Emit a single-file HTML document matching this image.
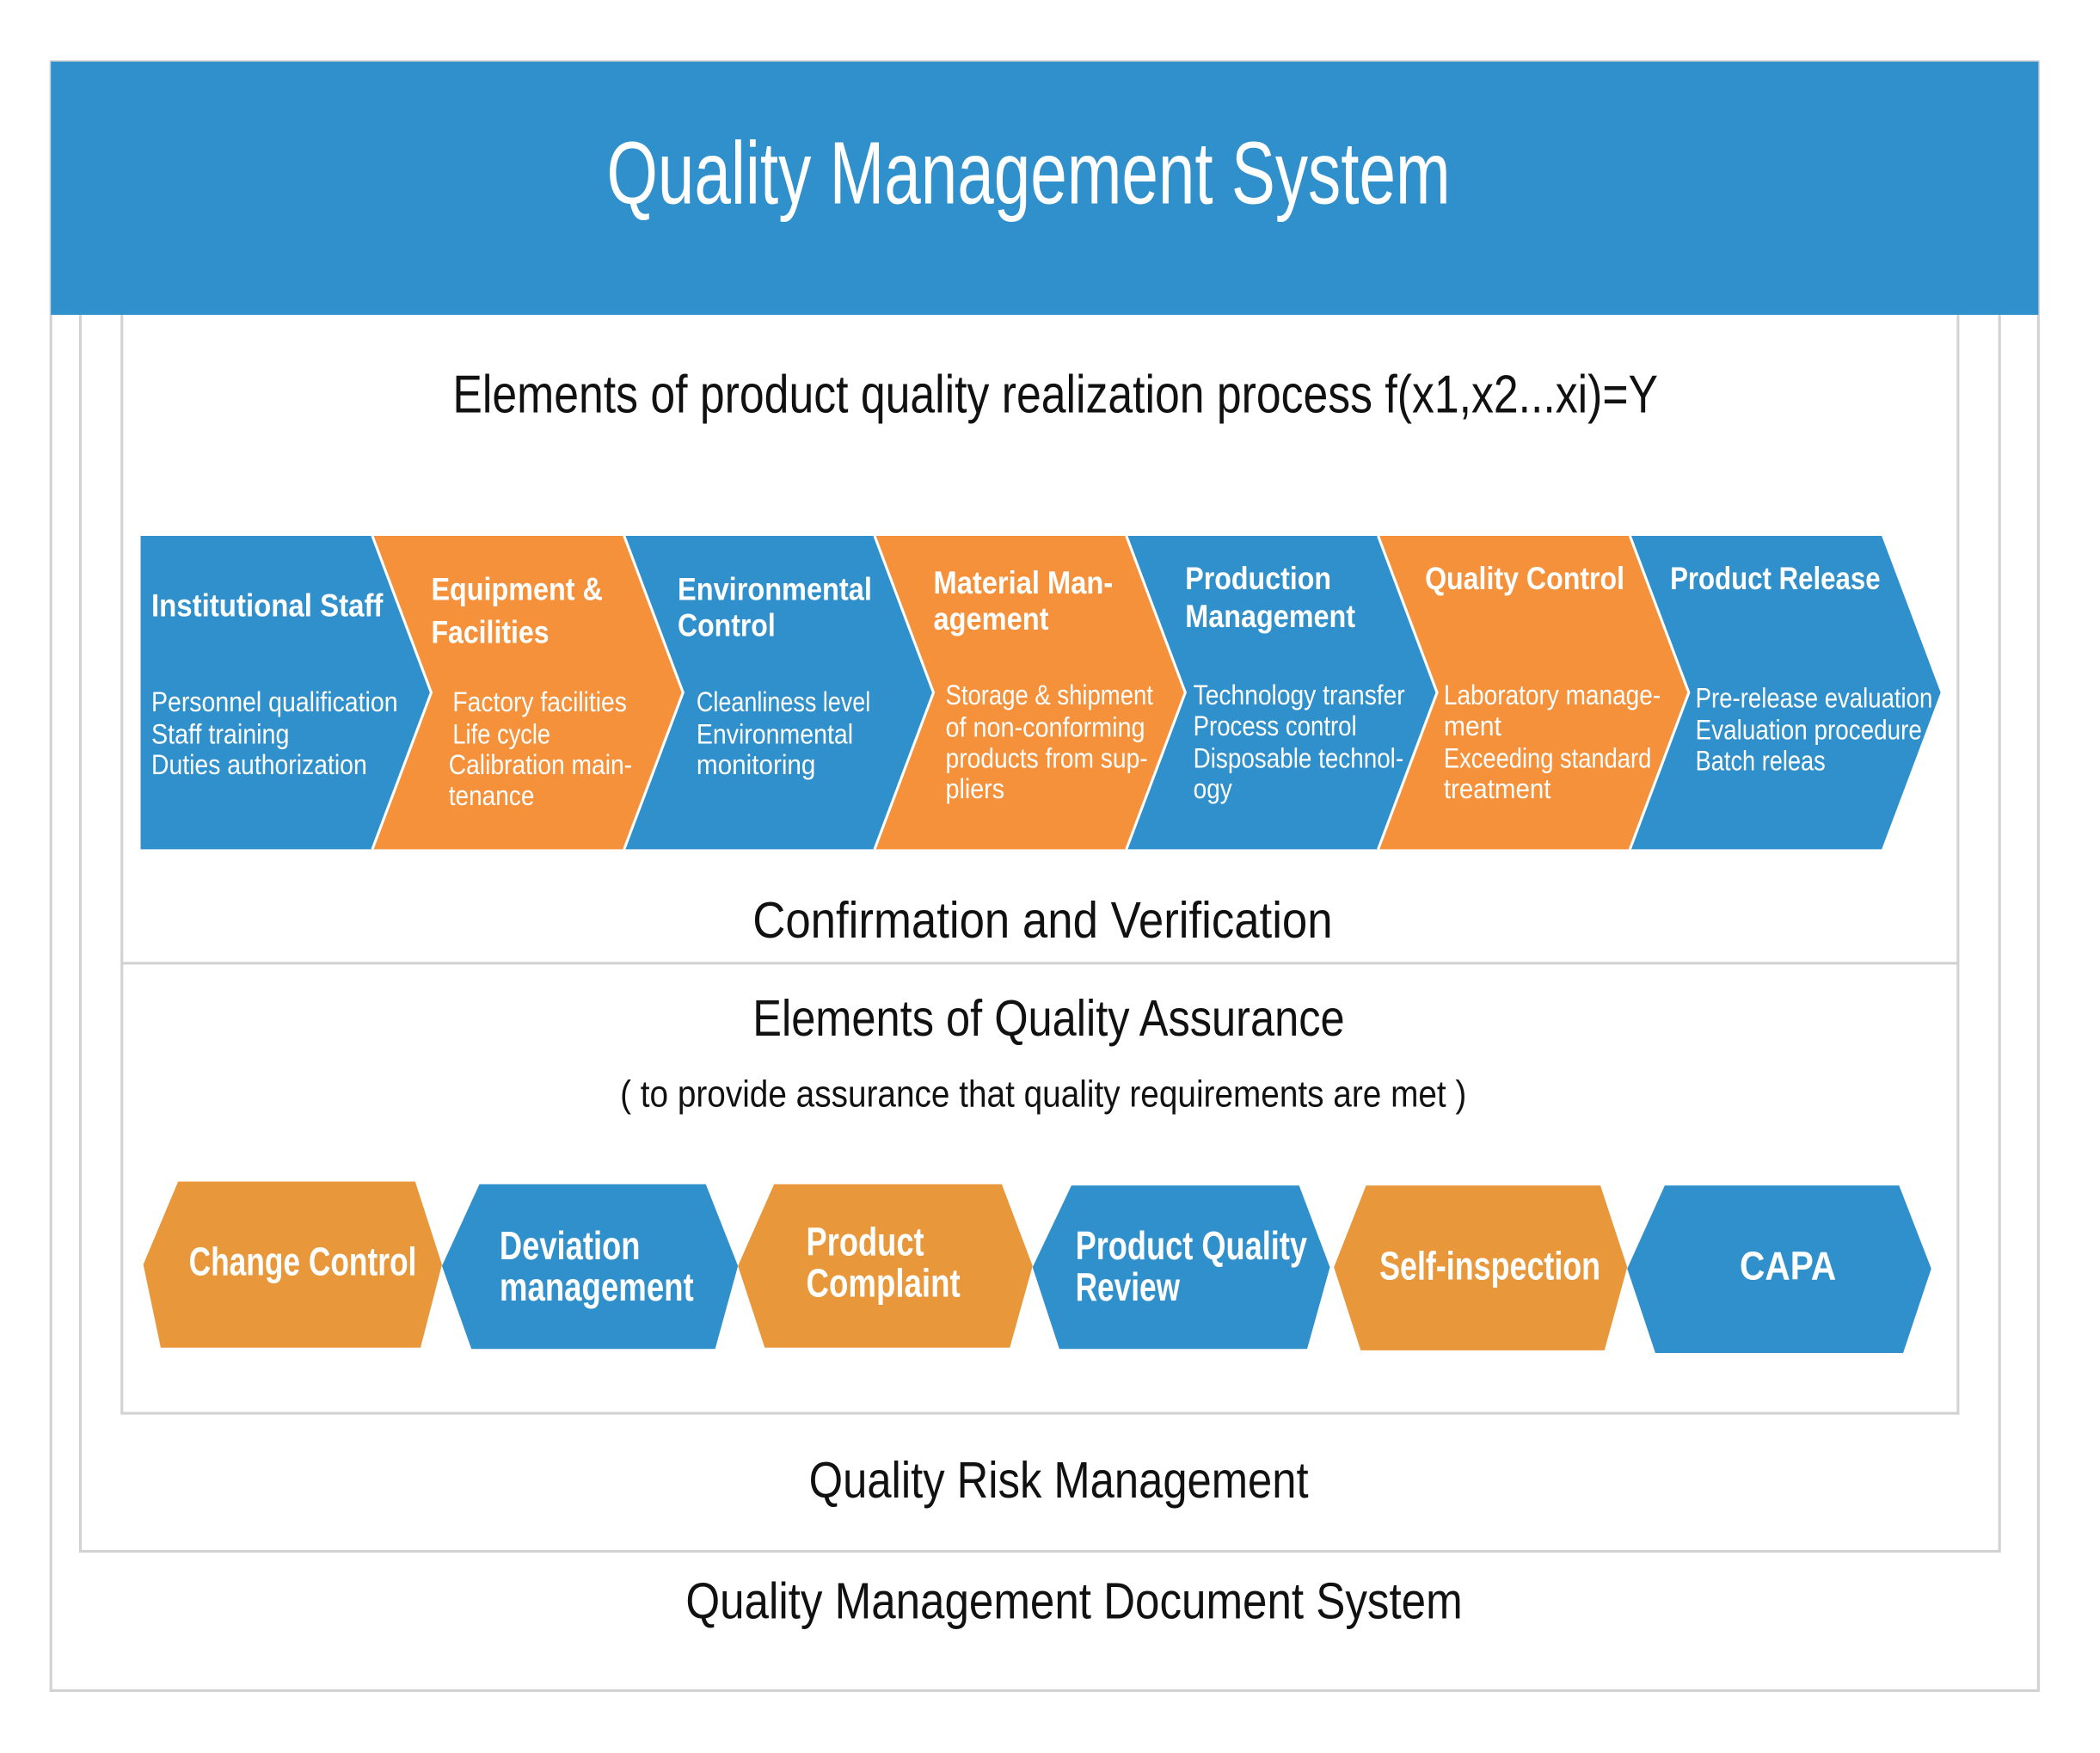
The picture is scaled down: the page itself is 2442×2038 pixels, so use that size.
<!DOCTYPE html>
<html><head><meta charset="utf-8"><style>html,body{margin:0;padding:0;background:#fff}svg{display:block}</style></head>
<body>
<svg width="2442" height="2038" viewBox="0 0 1568 1308.6" preserveAspectRatio="none" xmlns="http://www.w3.org/2000/svg" font-family="'Liberation Sans Narrow','Liberation Sans',sans-serif">
<rect x="0" y="0" width="1568" height="1308.6" fill="#fff"/>
<rect x="38" y="46" width="1484" height="1216" fill="none" stroke="#d2d2d2" stroke-width="2"/>
<rect x="60" y="200" width="1433" height="958" fill="none" stroke="#d2d2d2" stroke-width="2"/>
<rect x="91" y="200" width="1371" height="855" fill="none" stroke="#d2d2d2" stroke-width="2"/>
<line x1="91" y1="719" x2="1462" y2="719" stroke="#d2d2d2" stroke-width="2"/>
<rect x="38" y="46" width="1484" height="189" fill="#3090cb"/>
<text x="453" y="152" font-size="66" fill="#fff" textLength="630" lengthAdjust="spacingAndGlyphs">Quality Management System</text>
<text x="338" y="308" font-size="40" fill="#111" textLength="900" lengthAdjust="spacingAndGlyphs">Elements of product quality realization process  f(x1,x2...xi)=Y</text>

<g>
<polygon points="105,400 278,400 322,517 278,634 105,634" fill="#3090cb"/>
<polygon points="278,400 466,400 510,517 466,634 278,634 322,517" fill="#f4913a"/>
<polygon points="466,400 653,400 697,517 653,634 466,634 510,517" fill="#3090cb"/>
<polygon points="653,400 841,400 885,517 841,634 653,634 697,517" fill="#f4913a"/>
<polygon points="841,400 1029,400 1073,517 1029,634 841,634 885,517" fill="#3090cb"/>
<polygon points="1029,400 1217,400 1261,517 1217,634 1029,634 1073,517" fill="#f4913a"/>
<polygon points="1217,400 1405,400 1449,517 1405,634 1217,634 1261,517" fill="#3090cb"/>
<g stroke="#fff" stroke-width="2" fill="none">
<polyline points="278,400 322,517 278,634"/><polyline points="466,400 510,517 466,634"/><polyline points="653,400 697,517 653,634"/><polyline points="841,400 885,517 841,634"/><polyline points="1029,400 1073,517 1029,634"/><polyline points="1217,400 1261,517 1217,634"/>
</g>
</g>
<g fill="#fff" font-weight="bold" font-size="24" lengthAdjust="spacingAndGlyphs">
<text x="113" y="460" textLength="173" lengthAdjust="spacingAndGlyphs">Institutional Staff</text>
<text x="322" y="448" textLength="128" lengthAdjust="spacingAndGlyphs">Equipment &amp;</text>
<text x="322" y="480" textLength="88" lengthAdjust="spacingAndGlyphs">Facilities</text>
<text x="506" y="448" textLength="145" lengthAdjust="spacingAndGlyphs">Environmental</text>
<text x="506" y="475" textLength="73" lengthAdjust="spacingAndGlyphs">Control</text>
<text x="697" y="443" textLength="134" lengthAdjust="spacingAndGlyphs">Material Man-</text>
<text x="697" y="470" textLength="86" lengthAdjust="spacingAndGlyphs">agement</text>
<text x="885" y="440" textLength="109" lengthAdjust="spacingAndGlyphs">Production</text>
<text x="885" y="468" textLength="127" lengthAdjust="spacingAndGlyphs">Management</text>
<text x="1064" y="440" textLength="149" lengthAdjust="spacingAndGlyphs">Quality Control</text>
<text x="1247" y="440" textLength="157" lengthAdjust="spacingAndGlyphs">Product Release</text>
</g>
<g fill="#fff" font-size="21">
<text x="113" y="531" textLength="184" lengthAdjust="spacingAndGlyphs">Personnel qualification</text>
<text x="113" y="555" textLength="103" lengthAdjust="spacingAndGlyphs">Staff training</text>
<text x="113" y="578" textLength="161" lengthAdjust="spacingAndGlyphs">Duties authorization</text>
<text x="338" y="531" textLength="130" lengthAdjust="spacingAndGlyphs">Factory facilities</text>
<text x="338" y="555" textLength="73" lengthAdjust="spacingAndGlyphs">Life cycle</text>
<text x="335" y="578" textLength="137" lengthAdjust="spacingAndGlyphs">Calibration main-</text>
<text x="335" y="601" textLength="64" lengthAdjust="spacingAndGlyphs">tenance</text>
<text x="520" y="531" textLength="130" lengthAdjust="spacingAndGlyphs">Cleanliness level</text>
<text x="520" y="555" textLength="117" lengthAdjust="spacingAndGlyphs">Environmental</text>
<text x="520" y="578" textLength="89" lengthAdjust="spacingAndGlyphs">monitoring</text>
<text x="706" y="526" textLength="155" lengthAdjust="spacingAndGlyphs">Storage &amp; shipment</text>
<text x="706" y="550" textLength="149" lengthAdjust="spacingAndGlyphs">of non-conforming</text>
<text x="706" y="573" textLength="151" lengthAdjust="spacingAndGlyphs">products from sup-</text>
<text x="706" y="596" textLength="44" lengthAdjust="spacingAndGlyphs">pliers</text>
<text x="891" y="526" textLength="158" lengthAdjust="spacingAndGlyphs">Technology transfer</text>
<text x="891" y="549" textLength="122" lengthAdjust="spacingAndGlyphs">Process control</text>
<text x="891" y="573" textLength="157" lengthAdjust="spacingAndGlyphs">Disposable technol-</text>
<text x="891" y="596" textLength="29" lengthAdjust="spacingAndGlyphs">ogy</text>
<text x="1078" y="526" textLength="162" lengthAdjust="spacingAndGlyphs">Laboratory manage-</text>
<text x="1078" y="549" textLength="43" lengthAdjust="spacingAndGlyphs">ment</text>
<text x="1078" y="573" textLength="155" lengthAdjust="spacingAndGlyphs">Exceeding standard</text>
<text x="1078" y="596" textLength="80" lengthAdjust="spacingAndGlyphs">treatment</text>
<text x="1266" y="528" textLength="177" lengthAdjust="spacingAndGlyphs">Pre-release evaluation</text>
<text x="1266" y="552" textLength="169" lengthAdjust="spacingAndGlyphs">Evaluation procedure</text>
<text x="1266" y="575" textLength="97" lengthAdjust="spacingAndGlyphs">Batch releas</text>
</g>

<text x="562" y="700" font-size="38" fill="#111" textLength="433" lengthAdjust="spacingAndGlyphs">Confirmation and Verification</text>
<text x="562" y="773" font-size="38" fill="#111" textLength="442" lengthAdjust="spacingAndGlyphs">Elements of Quality Assurance</text>
<text x="463" y="826" font-size="28" fill="#111" textLength="632" lengthAdjust="spacingAndGlyphs">( to provide assurance that quality requirements are met )</text>

<polygon points="107,944 133,882 310,882 330,944 314,1006 120,1006" fill="#e8973a"/>
<polygon points="330,945 358,884 527,884 551,945 534,1007 352,1007" fill="#3090cb"/>
<polygon points="551,945 578,884 748,884 771,945 754,1006 571,1006" fill="#e8973a"/>
<polygon points="771,946 800,885 970,885 993,946 976,1007 791,1007" fill="#3090cb"/>
<polygon points="996,946 1020,885 1195,885 1215,946 1198,1008 1016,1008" fill="#e8973a"/>
<polygon points="1215,947 1243,885 1418,885 1442,947 1421,1010 1236,1010" fill="#3090cb"/>
<g fill="#fff" font-weight="bold" font-size="30">
<text x="141" y="952" textLength="170" lengthAdjust="spacingAndGlyphs">Change Control</text>
<text x="373" y="940" textLength="105" lengthAdjust="spacingAndGlyphs">Deviation</text>
<text x="373" y="971" textLength="145" lengthAdjust="spacingAndGlyphs">management</text>
<text x="602" y="937" textLength="88" lengthAdjust="spacingAndGlyphs">Product</text>
<text x="602" y="968" textLength="115" lengthAdjust="spacingAndGlyphs">Complaint</text>
<text x="803" y="940" textLength="173" lengthAdjust="spacingAndGlyphs">Product Quality</text>
<text x="803" y="971" textLength="78" lengthAdjust="spacingAndGlyphs">Review</text>
<text x="1030" y="955" textLength="165" lengthAdjust="spacingAndGlyphs">Self-inspection</text>
<text x="1299" y="955" textLength="72" lengthAdjust="spacingAndGlyphs">CAPA</text>
</g>

<text x="604" y="1118" font-size="38" fill="#111" textLength="373" lengthAdjust="spacingAndGlyphs">Quality Risk Management</text>
<text x="512" y="1208" font-size="38" fill="#111" textLength="580" lengthAdjust="spacingAndGlyphs">Quality Management Document System</text>
</svg>
</body></html>
